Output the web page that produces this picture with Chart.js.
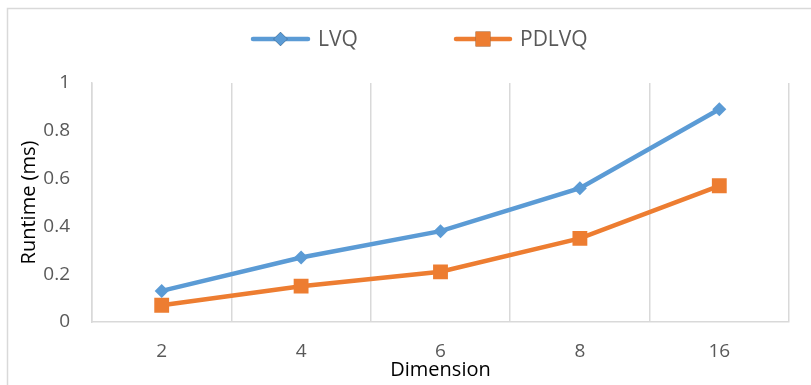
<!DOCTYPE html>
<html>
<head>
<meta charset="utf-8">
<script src="https://cdn.jsdelivr.net/npm/chart.js@4.4.0/dist/chart.umd.min.js"></script>
<style>
html,body{margin:0;padding:0;background:#fff;}
#wrap{position:relative;width:811px;height:385px;}
</style>
</head>
<body>
<div id="wrap"><canvas id="c" width="811" height="385"></canvas></div>
<script>
const categories = ["2", "4", "6", "8", "16"];
const lvqValues = [0.13, 0.27, 0.38, 0.56, 0.89];
const pdlvqValues = [0.07, 0.15, 0.21, 0.35, 0.57];
const seriesNames = ["LVQ", "PDLVQ"];
const yTicks = [0, 0.2, 0.4, 0.6, 0.8, 1];
const xTitle = "Dimension";
const yTitle = "Runtime (ms)";

const BLUE = "#5B9BD5", ORANGE = "#ED7D31", GRID = "#D9D9D9", TICK = "#595959";
const FONT = "'Open Sans', 'Noto Sans', sans-serif";

const decor = {
  id: "decor",
  beforeDraw(chart) {
    const ctx = chart.ctx;
    ctx.save();
    ctx.strokeStyle = GRID;
    ctx.lineWidth = 1.5;
    ctx.strokeRect(7.5, 8.5, 900, 500);
    ctx.restore();
  },
  afterDraw(chart) {
    const ctx = chart.ctx;
    const ca = chart.chartArea;
    ctx.save();
    // axis titles
    ctx.fillStyle = "#000";
    ctx.font = "20px " + FONT;
    ctx.textAlign = "center";
    ctx.textBaseline = "middle";
    ctx.fillText(xTitle, (ca.left + ca.right) / 2, 370);
    ctx.save();
    ctx.translate(29, (ca.top + ca.bottom) / 2);
    ctx.rotate(-Math.PI / 2);
    ctx.fillText(yTitle, 0, 0);
    ctx.restore();
    // legend
    const items = [
      {x0: 253, x1: 308, tx: 318, ds: chart.data.datasets[0]},
      {x0: 456, x1: 510, tx: 520, ds: chart.data.datasets[1]}
    ];
    const y = 39;
    items.forEach(it => {
      ctx.strokeStyle = it.ds.borderColor;
      ctx.lineWidth = it.ds.borderWidth;
      ctx.lineCap = "round";
      ctx.beginPath();
      ctx.moveTo(it.x0, y);
      ctx.lineTo(it.x1, y);
      ctx.stroke();
      Chart.helpers.drawPoint(ctx, {
        pointStyle: it.ds.pointStyle,
        radius: it.ds.pointRadius,
        borderWidth: 0,
        rotation: 0
      }, (it.x0 + it.x1) / 2, y);
      ctx.fillStyle = it.ds.pointBackgroundColor;
      ctx.fill();
      ctx.fillStyle = TICK;
      ctx.font = "21px " + FONT;
      ctx.textAlign = "left";
      ctx.textBaseline = "middle";
      ctx.fillText(it.ds.label, it.tx, y + 1);
    });
    ctx.restore();
  }
};

new Chart(document.getElementById("c"), {
  type: "line",
  data: {
    labels: categories,
    datasets: [
      {
        label: seriesNames[0], data: lvqValues,
        borderColor: BLUE, backgroundColor: BLUE,
        pointBackgroundColor: BLUE, pointBorderColor: BLUE,
        borderWidth: 4.5, pointStyle: "rectRot", pointRadius: 7, pointBorderWidth: 0,
        tension: 0, fill: false
      },
      {
        label: seriesNames[1], data: pdlvqValues,
        borderColor: ORANGE, backgroundColor: ORANGE,
        pointBackgroundColor: ORANGE, pointBorderColor: ORANGE,
        borderWidth: 4.5, pointStyle: "rect", pointRadius: 10.5, pointBorderWidth: 0,
        tension: 0, fill: false
      }
    ]
  },
  options: {
    responsive: false,
    animation: false,
    layout: { padding: { left: 0, top: 83, right: 22, bottom: 0 } },
    plugins: { legend: { display: false }, tooltip: { enabled: false }, title: { display: false } },
    scales: {
      x: {
        type: "category",
        offset: true,
        grid: { display: true, offset: true, color: GRID, lineWidth: 1.5, drawTicks: false },
        border: { display: true, color: GRID, width: 1.5 },
        ticks: { color: TICK, font: { family: FONT, size: 19 }, padding: 18, maxRotation: 0 },
        afterFit(s) { s.height = 63; }
      },
      y: {
        min: 0, max: 1,
        afterBuildTicks(s) { s.ticks = yTicks.map(v => ({ value: v })); },
        grid: { display: false, drawTicks: false },
        border: { display: true, color: GRID, width: 1.5 },
        ticks: { color: TICK, font: { family: FONT, size: 19 }, padding: 22,
          callback: v => String(Math.round(v * 10) / 10) },
        afterFit(s) { s.width = 92; }
      }
    }
  },
  plugins: [decor]
});
</script>
</body>
</html>
